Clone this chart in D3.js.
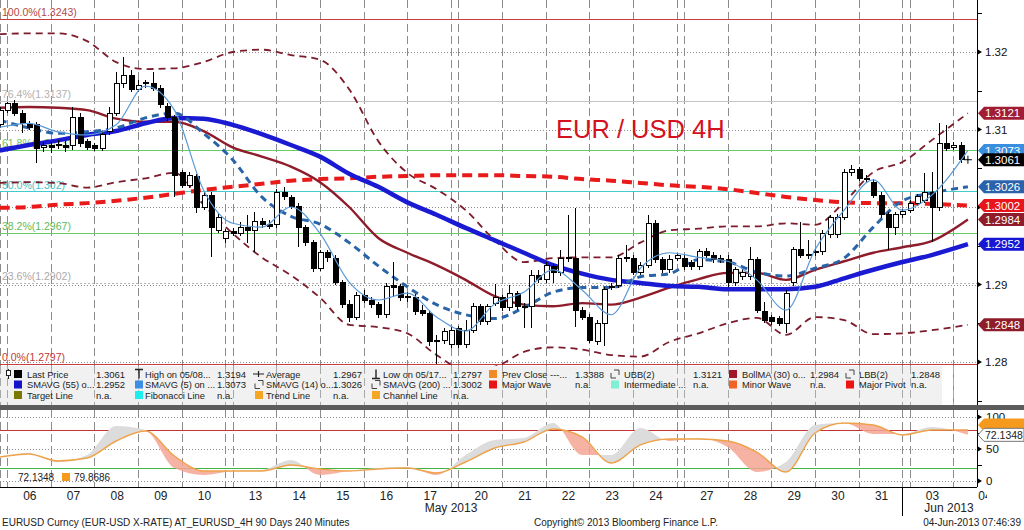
<!DOCTYPE html>
<html><head><meta charset="utf-8">
<script src="https://cdn.jsdelivr.net/npm/d3@7"></script>
<style>
html,body{margin:0;padding:0;background:#fff;}
svg{display:block;font-family:"Liberation Sans",Arial,sans-serif;}
</style></head><body>
<svg id="c" width="1024" height="530"></svg>
<script>
// ---------- categories ----------
const dayLabels = ["06","07","08","09","10","13","14","15","16","17","20","21","22","23","24","27","28","29","30","31","03","04"];
const dayStarts = [1,7,13,19,25,32,38,44,50,56,63,69,75,81,87,94,100,106,112,118,125,131];
const sundayBars = [0,31,62,93,124];
const monthLabels = ["May 2013","Jun 2013"];
const monthPos = [62,130.5];
const monthBreak = 124;

// ---------- 4H candles (EURUSD) ----------
const candleOpen = [
1.3106,1.3125,1.3133,1.3121,1.3107,1.3106,1.3077,1.3079,1.3079,1.3080,
1.3080,1.3116,1.3084,1.3079,1.3076,1.3097,1.3121,1.3160,1.3170,1.3152,
1.3159,1.3160,1.3153,1.3130,1.3115,1.3044,1.3028,1.3039,1.3000,1.3015,
1.2970,1.2960,1.2969,1.2966,1.2974,1.2970,1.2981,1.2978,1.2977,1.3019,
1.3012,1.3001,1.2973,1.2954,1.2921,1.2941,1.2934,1.2902,1.2874,1.2858,
1.2886,1.2880,1.2874,1.2861,1.2899,1.2897,1.2885,1.2883,1.2866,1.2863,
1.2828,1.2828,1.2822,1.2843,1.2822,1.2841,1.2871,1.2852,1.2876,1.2883,
1.2870,1.2888,1.2872,1.2871,1.2912,1.2906,1.2923,1.2915,1.2935,1.2934,
1.2867,1.2858,1.2826,1.2850,1.2896,1.2899,1.2935,1.2934,1.2916,1.2925,
1.2979,1.2932,1.2919,1.2934,1.2934,1.2928,1.2923,1.2942,1.2938,1.2934,
1.2932,1.2902,1.2910,1.2910,1.2932,1.2865,1.2857,1.2856,1.2850,1.2902,
1.2945,1.2939,1.2943,1.2942,1.2964,1.2964,1.2987,1.3044,1.3048,1.3037,
1.3032,1.3015,1.2990,1.2973,1.2990,1.2996,1.3005,1.3009,1.3019,1.2999,
1.3082,1.3077,1.3080];
const candleHigh = [
1.3129,1.3135,1.3138,1.3125,1.3111,1.3110,1.3084,1.3084,1.3086,1.3085,
1.3129,1.3121,1.3088,1.3082,1.3098,1.3129,1.3174,1.3194,1.3177,1.3164,
1.3164,1.3174,1.3157,1.3134,1.3119,1.3048,1.3045,1.3043,1.3019,1.3019,
1.2991,1.2972,1.2973,1.2981,1.2990,1.2994,1.2986,1.2983,1.3023,1.3026,
1.3015,1.3005,1.2977,1.2957,1.2945,1.2945,1.2938,1.2906,1.2880,1.2890,
1.2893,1.2884,1.2877,1.2902,1.2929,1.2901,1.2890,1.2888,1.2874,1.2867,
1.2835,1.2844,1.2845,1.2846,1.2854,1.2876,1.2875,1.2875,1.2901,1.2886,
1.2899,1.2892,1.2876,1.2919,1.2919,1.2929,1.2926,1.2945,1.2990,1.2999,
1.2871,1.2862,1.2854,1.2897,1.2902,1.2938,1.2951,1.2938,1.2929,1.2990,
1.2983,1.2935,1.2938,1.2941,1.2938,1.2932,1.2946,1.2947,1.2942,1.2938,
1.2938,1.2923,1.2920,1.2948,1.2935,1.2877,1.2861,1.2859,1.2893,1.2948,
1.2981,1.2957,1.2947,1.2970,1.2990,1.2991,1.3049,1.3054,1.3052,1.3041,
1.3036,1.3019,1.2994,1.2994,1.2997,1.3009,1.3017,1.3044,1.3045,1.3108,
1.3106,1.3084,1.3084];
const candleLow = [
1.3102,1.3121,1.3117,1.3095,1.3099,1.3057,1.3071,1.3070,1.3075,1.3071,
1.3073,1.3077,1.3073,1.3072,1.3072,1.3093,1.3117,1.3153,1.3148,1.3148,
1.3153,1.3150,1.3128,1.3111,1.3013,1.3025,1.3025,1.2992,1.2996,1.2935,
1.2966,1.2954,1.2963,1.2963,1.2954,1.2942,1.2973,1.2972,1.2973,1.3009,
1.2997,1.2948,1.2950,1.2916,1.2917,1.2929,1.2899,1.2870,1.2852,1.2854,
1.2876,1.2870,1.2857,1.2857,1.2884,1.2879,1.2877,1.2861,1.2859,1.2821,
1.2797,1.2823,1.2818,1.2818,1.2818,1.2837,1.2848,1.2848,1.2872,1.2866,
1.2866,1.2867,1.2844,1.2844,1.2902,1.2902,1.2902,1.2911,1.2929,1.2845,
1.2854,1.2825,1.2822,1.2821,1.2893,1.2896,1.2929,1.2912,1.2912,1.2921,
1.2928,1.2915,1.2915,1.2930,1.2919,1.2919,1.2919,1.2934,1.2928,1.2928,
1.2897,1.2898,1.2906,1.2906,1.2863,1.2850,1.2848,1.2846,1.2837,1.2898,
1.2934,1.2933,1.2937,1.2938,1.2960,1.2960,1.2983,1.3040,1.3034,1.3031,
1.3012,1.2986,1.2945,1.2964,1.2986,1.2992,1.3001,1.3005,1.2955,1.2995,
1.3072,1.3073,1.3057];
const candleClose = [
1.3125,1.3133,1.3121,1.3108,1.3103,1.3076,1.3079,1.3077,1.3081,1.3077,
1.3115,1.3082,1.3077,1.3076,1.3093,1.3121,1.3160,1.3170,1.3152,1.3157,
1.3161,1.3153,1.3132,1.3115,1.3041,1.3028,1.3041,1.3000,1.3015,1.2973,
1.2987,1.2968,1.2966,1.2974,1.2970,1.2981,1.2977,1.2975,1.3019,1.3013,
1.3001,1.2973,1.2954,1.2921,1.2941,1.2935,1.2903,1.2874,1.2858,1.2886,
1.2880,1.2874,1.2861,1.2897,1.2896,1.2883,1.2883,1.2865,1.2863,1.2826,
1.2826,1.2839,1.2841,1.2822,1.2841,1.2871,1.2852,1.2871,1.2883,1.2870,
1.2889,1.2871,1.2870,1.2912,1.2906,1.2925,1.2915,1.2934,1.2933,1.2867,
1.2858,1.2828,1.2850,1.2893,1.2898,1.2934,1.2933,1.2916,1.2925,1.2979,
1.2932,1.2919,1.2932,1.2937,1.2923,1.2923,1.2942,1.2938,1.2932,1.2932,
1.2902,1.2919,1.2916,1.2932,1.2867,1.2854,1.2852,1.2850,1.2889,1.2945,
1.2938,1.2937,1.2941,1.2966,1.2986,1.2987,1.3045,1.3048,1.3037,1.3035,
1.3015,1.2990,1.2973,1.2990,1.2994,1.3005,1.3013,1.3019,1.2999,1.3082,
1.3076,1.3080,1.3061];
const lastPrice = 1.3061;
const lastBar = 133;

// ---------- studies (sampled at bar indices) ----------
const lineIdx = [0,4,8,12,16,20,24,28,32,36,40,44,48,52,56,60,64,68,72,76,80,84,88,92,96,100,104,108,112,116,120,124,128,133];
const sma55 = [1.3073,1.3080,1.3086,1.3093,1.3098,1.3108,1.3115,1.3114,1.3106,1.3094,1.3080,1.3065,1.3043,1.3026,1.3006,1.2990,1.2973,1.2957,1.2941,1.2925,1.2914,1.2906,1.2902,1.2898,1.2897,1.2894,1.2894,1.2894,1.2897,1.2908,1.2919,1.2929,1.2938,1.2952];
const bollMA30 = [1.3128,1.3129,1.3128,1.3125,1.3114,1.3110,1.3110,1.3098,1.3077,1.3065,1.3052,1.3032,1.3000,1.2960,1.2941,1.2925,1.2906,1.2885,1.2874,1.2872,1.2876,1.2874,1.2883,1.2896,1.2907,1.2915,1.2915,1.2906,1.2919,1.2930,1.2941,1.2948,1.2956,1.2984];
const sma14 = [1.3112,1.3102,1.3095,1.3097,1.3102,1.3115,1.3121,1.3095,1.3061,1.3013,1.2988,1.2978,1.2954,1.2924,1.2897,1.2874,1.2861,1.2856,1.2870,1.2890,1.2896,1.2896,1.2910,1.2914,1.2932,1.2929,1.2916,1.2911,1.2921,1.2934,1.2974,1.3008,1.3018,1.3026];
const sma5 = [1.3103,1.3108,1.3097,1.3093,1.3106,1.3156,1.3125,1.3022,1.2979,1.2974,1.3000,1.2966,1.2903,1.2880,1.2889,1.2858,1.2840,1.2875,1.2890,1.2919,1.2893,1.2861,1.2921,1.2941,1.2935,1.2930,1.2906,1.2867,1.2945,1.2996,1.3035,1.2996,1.3015,1.3073];
const sma200 = [1.2999,1.3000,1.3003,1.3005,1.3008,1.3012,1.3017,1.3022,1.3026,1.3030,1.3034,1.3036,1.3037,1.3039,1.3040,1.3041,1.3041,1.3041,1.3040,1.3039,1.3036,1.3034,1.3031,1.3028,1.3026,1.3023,1.3018,1.3013,1.3009,1.3006,1.3005,1.3005,1.3004,1.3002];
const ubb = [1.3223,1.3224,1.3224,1.3214,1.3187,1.3178,1.3179,1.3187,1.3200,1.3203,1.3196,1.3190,1.3152,1.3085,1.3044,1.3023,1.2996,1.2957,1.2929,1.2934,1.2935,1.2935,1.2954,1.2970,1.2972,1.2975,1.2975,1.2979,1.2977,1.3006,1.3045,1.3058,1.3086,1.3121];
const lbb = [1.3031,1.3032,1.3031,1.3025,1.3032,1.3037,1.3044,1.3003,1.2966,1.2935,1.2912,1.2883,1.2848,1.2845,1.2837,1.2809,1.2790,1.2794,1.2813,1.2819,1.2816,1.2809,1.2807,1.2826,1.2837,1.2850,1.2857,1.2835,1.2858,1.2854,1.2836,1.2837,1.2841,1.2848];
const stochK = [37.5,43.8,29.7,40.6,85.9,79.7,20.3,9.4,15.6,17.2,32.8,9.4,15.6,20.3,21.9,9.4,40.6,64.1,67.2,90.6,40.6,40.6,82.8,62.5,67.2,53.1,14.1,29.7,87.5,90.6,73.4,73.4,84.4,72.1348];
const stochD = [37.5,42.2,31.3,35.9,62.5,78.1,39.1,15.6,15.6,15.6,25.0,18.8,15.6,18.8,20.3,12.5,29.7,51.6,60.9,81.3,68.8,28.1,56.3,65.6,65.6,62.5,45.3,14.1,75.0,90.6,87.5,71.9,79.7,79.8686];

// ---------- fibonacci ----------
const fibLevels = [1.3243,1.3137,1.3073,1.3020,1.2967,1.2902,1.2797];
const fibLabels = ["100.0%(1.3243)","76.4%(1.3137)","61.8%(1.3073)","50.0%(1.302)","38.2%(1.2967)","23.6%(1.2902)","0.0%(1.2797)"];
const fibColors = ["#c43c3c","#c4c4c4","#66cc66","#44cccc","#66cc66","#b4b4b4","#c43c3c"];
const fibTextColors = ["#b24848","#b0b0b0","#6cc46c","#44c4c4","#5cbc5c","#aaaaaa","#c03838"];

// ---------- axis ticks ----------
const priceTicks = [1.32,1.31,1.30,1.29,1.28];
const priceTickLabels = ["1.32","1.31","","1.29","1.28"];   // 1.30 label sits under the value flags
const priceMinor = [1.325,1.315,1.305,1.295,1.285,1.275];
const oscTicks = [100,50,0];
const oscMinor = [75,25];

// ---------- right-hand value flags ----------
const flagValues = [1.3121,1.3073,1.3061,1.3026,1.3002,1.2984,1.2952,1.2848];
const flagColors = ["#a11d33","#3a8ee0","#000000","#2a62ac","#e8161c","#8e1c2a","#1616d4","#8e1c2a"];

// ---------- legend ----------
const legendIcons = [["lp","#000","sq","#1414c8","sq","#7a7a00"],["hi","#222","sq","#3d8fe6","sq","#20eeee"],["avg","#222","br","#444","sq","#f5a623"],["lo","#222","br","#444","sq","#f5a623"],["sq","#f08a24","sq","#e81414"],["br","#444","sq","#7ff0d4"],["sq","#a01828","sq","#f06428"],["br","#444","sq","#ee1414"]];
const legendNames = [["Last Price","SMAVG (55) o...","Target Line"],["High on 05/08...","SMAVG (5) on ...","Fibonacci Line"],["Average","SMAVG (14) o...","Trend Line"],["Low on 05/17...","SMAVG (200) ...","Channel Line"],["Prev Close ---...","Major Wave"],["UBB(2)","Intermediate ..."],["BollMA (30) o...","Minor Wave"],["LBB(2)","Major Pivot"]];
const legendValues = [["1.3061","1.2952","n.a."],["1.3194","1.3073","n.a."],["1.2967","1.3026","n.a."],["1.2797","1.3002","n.a."],["1.3388","n.a."],["1.3121","n.a."],["1.2984","n.a."],["1.2848","n.a."]];
const legendIconX = [14,135,255,372,489,611,729,846];
const legendNameX = [27,145,266,383,502,624,742,859];
const legendValueX = [96,217,333,453,575,693,810,911];
const oscLegendValues = ["72.1348","79.8686"];

// ================= drawing =================
const svg = d3.select("#c");
const XR = 977, MB = 405, LT = 410, LB = 487;
const x = d3.scaleLinear().domain([0,134]).range([-0.3,975.2]);
const y = d3.scaleLinear().domain([1.32,1.28]).range([52,362]);
const yo = d3.scaleLinear().domain([0,100]).range([481,417]);
const defs = svg.append("defs");
defs.append("clipPath").attr("id","cm").append("rect").attr("x",0).attr("y",0).attr("width",XR).attr("height",MB);
defs.append("clipPath").attr("id","cl").append("rect").attr("x",0).attr("y",LT).attr("width",XR).attr("height",LB-LT);
defs.append("clipPath").attr("id","cx").append("rect").attr("x",0).attr("y",LB).attr("width",987).attr("height",30);

const gridK = dayStarts.concat(sundayBars);
const px = k => Math.round(x(k)) + 0.5;

// ---- main panel ----
const g = svg.append("g").attr("clip-path","url(#cm)");
g.selectAll("line.vg").data(gridK).join("line").attr("class","vg")
  .attr("x1",px).attr("x2",px).attr("y1",0).attr("y2",MB)
  .attr("stroke","#8c8c8c").attr("stroke-dasharray","8,4");
g.selectAll("line.hg").data(priceTicks).join("line").attr("class","hg")
  .attr("x1",0).attr("x2",XR).attr("y1",d=>Math.round(y(d))+0.5).attr("y2",d=>Math.round(y(d))+0.5)
  .attr("stroke","#8c8c8c").attr("stroke-dasharray","1,2");
g.selectAll("text.fl").data(fibLevels).join("text").attr("class","fl")
  .attr("x",2).attr("y",d=>y(d)-3).attr("font-size",10.5)
  .attr("fill",(d,i)=>fibTextColors[i]).text((d,i)=>fibLabels[i]);
g.selectAll("line.fib").data(fibLevels).join("line").attr("class","fib")
  .attr("x1",0).attr("x2",XR).attr("y1",d=>Math.round(y(d))+0.5).attr("y2",d=>Math.round(y(d))+0.5)
  .attr("stroke",(d,i)=>fibColors[i]).attr("stroke-width",1.2)
  .attr("stroke-dasharray",(d,i)=>i===5?"2,2":null);
g.append("text").attr("x",556).attr("y",138).attr("font-size",25.5).attr("fill","#d4111e").text("EUR / USD 4H");

const lineGen = d3.line().x((d,i)=>x(lineIdx[i])).y(d=>y(d)).curve(d3.curveMonotoneX);
function drawLine(vals,color,w,dash){
  g.append("path").attr("d",lineGen(vals)).attr("fill","none").attr("stroke",color)
   .attr("stroke-width",w).attr("stroke-dasharray",dash||null).attr("stroke-linejoin","round");
}
drawLine(ubb,"#7c1c2c",1.8,"7,5");
drawLine(lbb,"#7c1c2c",1.8,"7,5");
drawLine(sma200,"#e81a1a",4,"10,6");
drawLine(bollMA30,"#8e1c2a",2.4);
drawLine(sma55,"#1a1ad2",4.5);
drawLine(sma14,"#2a64a8",3,"7,5");

const candles = candleOpen.map((o,i)=>({k:i,o:o,h:candleHigh[i],l:candleLow[i],c:candleClose[i]}));
const cg = g.append("g").attr("shape-rendering","crispEdges");
cg.selectAll("line").data(candles).join("line")
  .attr("x1",d=>px(d.k)).attr("x2",d=>px(d.k)).attr("y1",d=>y(d.h)).attr("y2",d=>y(d.l))
  .attr("stroke","#000");
cg.selectAll("rect").data(candles).join("rect")
  .attr("x",d=>Math.round(x(d.k))-2).attr("width",5)
  .attr("y",d=>Math.min(y(d.o),y(d.c)))
  .attr("height",d=>Math.max(1.5,Math.abs(y(d.o)-y(d.c))))
  .attr("fill",d=>d.c>=d.o?"#fff":"#000").attr("stroke","#000");
drawLine(sma5,"#5a9ad8",1.2);
g.append("path").attr("d",`M${x(lastBar)-4},${y(lastPrice)}h8M${x(lastBar)},${y(lastPrice)-4}v8`)
  .attr("stroke","#000").attr("stroke-width",1);

// ---- legend box ----
svg.append("rect").attr("x",0).attr("y",366).attr("width",942).attr("height",MB-366).attr("fill","#f1f1f1");
svg.selectAll("line.lg").data(gridK).join("line").attr("class","lg")
  .attr("x1",px).attr("x2",px).attr("y1",366).attr("y2",MB)
  .attr("stroke","#a8a8a8").attr("stroke-dasharray","8,4");
const rowY = [374,384.5,395];
legendNames.forEach((col,ci)=>{
  col.forEach((name,ri)=>{
    const ix = legendIconX[ci], yc = rowY[ri];
    const kind = legendIcons[ci][ri*2], col2 = legendIcons[ci][ri*2+1];
    if(kind==="sq"||kind==="lp"){
      svg.append("rect").attr("x",ix).attr("y",yc-4).attr("width",8).attr("height",8).attr("fill",col2);
      if(kind==="lp"){
        svg.append("line").attr("x1",8.5).attr("x2",8.5).attr("y1",yc-5).attr("y2",yc+5).attr("stroke","#222");
        svg.append("rect").attr("x",6.5).attr("y",yc-3.5).attr("width",4).attr("height",5).attr("fill","#fff").attr("stroke","#222");
      }
    } else if(kind==="hi"){
      svg.append("path").attr("d",`M${ix},${yc-4.5}h8M${ix+4},${yc-4.5}v9`).attr("stroke",col2).attr("stroke-width",1.4).attr("fill","none");
    } else if(kind==="lo"){
      svg.append("path").attr("d",`M${ix},${yc+4.5}h8M${ix+4},${yc+4.5}v-9`).attr("stroke",col2).attr("stroke-width",1.4).attr("fill","none");
    } else if(kind==="avg"){
      svg.append("path").attr("d",`M${ix-2},${yc}h11M${ix+3.5},${yc-3}v6`).attr("stroke",col2).attr("stroke-width",1.2).attr("fill","none");
    } else if(kind==="br"){
      svg.append("path").attr("d",`M${ix+3},${yc-4}h5v5M${ix},${yc-1}v5h5`).attr("stroke",col2).attr("stroke-width",1).attr("fill","none");
    }
    svg.append("text").attr("x",legendNameX[ci]).attr("y",yc+3.5).attr("font-size",9.3).attr("fill","#222").text(name);
    svg.append("text").attr("x",legendValueX[ci]).attr("y",yc+3.5).attr("font-size",9.5).attr("fill","#222").text(legendValues[ci][ri]);
  });
});
svg.append("rect").attr("x",0).attr("y",MB).attr("width",1024).attr("height",LT-MB).attr("fill","#5c5c5c");

// ---- lower panel (stochastic) ----
const lg = svg.append("g").attr("clip-path","url(#cl)");
lg.selectAll("line.vg").data(gridK).join("line").attr("class","vg")
  .attr("x1",px).attr("x2",px).attr("y1",LT).attr("y2",LB)
  .attr("stroke","#8c8c8c").attr("stroke-dasharray","8,4");
lg.selectAll("line.hg").data(oscTicks).join("line").attr("class","hg")
  .attr("x1",0).attr("x2",XR).attr("y1",d=>Math.round(yo(d))+0.5).attr("y2",d=>Math.round(yo(d))+0.5)
  .attr("stroke","#8c8c8c").attr("stroke-dasharray","1,2");
lg.append("line").attr("x1",0).attr("x2",XR).attr("y1",Math.round(yo(80))+0.5).attr("y2",Math.round(yo(80))+0.5).attr("stroke","#c43434");
lg.append("line").attr("x1",0).attr("x2",XR).attr("y1",Math.round(yo(20))+0.5).attr("y2",Math.round(yo(20))+0.5).attr("stroke","#44b444");
const oscX = (d,i)=>x(lineIdx[i]);
const aboveD = d3.area().x(oscX).y0(LT).y1(d=>yo(d)).curve(d3.curveMonotoneX);
const belowD = d3.area().x(oscX).y0(LB).y1(d=>yo(d)).curve(d3.curveMonotoneX);
defs.append("clipPath").attr("id","ca").append("path").attr("d",aboveD(stochD));
defs.append("clipPath").attr("id","cb").append("path").attr("d",belowD(stochD));
const between = d3.area().x(oscX).y0((d,i)=>yo(stochD[i])).y1(d=>yo(d)).curve(d3.curveMonotoneX);
lg.append("path").attr("d",between(stochK)).attr("fill","#dcdcdc").attr("clip-path","url(#ca)");
lg.append("path").attr("d",between(stochK)).attr("fill","#f5a592").attr("fill-opacity",0.85).attr("clip-path","url(#cb)");
lg.append("path").attr("d",d3.line().x(oscX).y(d=>yo(d)).curve(d3.curveMonotoneX)(stochD))
  .attr("fill","none").attr("stroke","#eea24a").attr("stroke-width",1.4);
svg.append("text").attr("x",18).attr("y",481).attr("font-size",10).attr("fill","#222").text(oscLegendValues[0]);
svg.append("rect").attr("x",62).attr("y",473).attr("width",8).attr("height",8).attr("fill","#f59a1c");
svg.append("text").attr("x",74).attr("y",481).attr("font-size",10).attr("fill","#222").text(oscLegendValues[1]);

// ---- axes ----
svg.append("line").attr("x1",XR+0.5).attr("x2",XR+0.5).attr("y1",0).attr("y2",MB).attr("stroke","#000");
svg.append("line").attr("x1",XR+0.5).attr("x2",XR+0.5).attr("y1",LT).attr("y2",LB).attr("stroke","#000");
svg.append("line").attr("x1",0).attr("x2",XR).attr("y1",LB+0.5).attr("y2",LB+0.5).attr("stroke","#000");
priceTicks.forEach((t,i)=>{
  const yy = y(t);
  svg.append("path").attr("d",`M${XR},${yy-3}L${XR+5},${yy}L${XR},${yy+3}Z`).attr("fill","#000");
  if(priceTickLabels[i]) svg.append("text").attr("x",985).attr("y",yy+4).attr("font-size",11.5).attr("fill","#111").text(priceTickLabels[i]);
});
priceMinor.forEach(t=>{
  svg.append("line").attr("x1",XR).attr("x2",XR+5).attr("y1",Math.round(y(t))+0.5).attr("y2",Math.round(y(t))+0.5).attr("stroke","#000");
});
oscTicks.forEach(t=>{
  const yy = yo(t);
  svg.append("path").attr("d",`M${XR},${yy-3}L${XR+5},${yy}L${XR},${yy+3}Z`).attr("fill","#000");
  svg.append("text").attr("x",986).attr("y",yy+4).attr("font-size",11.5).attr("fill","#111").text(t);
});
oscMinor.forEach(t=>{
  svg.append("line").attr("x1",XR).attr("x2",XR+5).attr("y1",Math.round(yo(t))+0.5).attr("y2",Math.round(yo(t))+0.5).attr("stroke","#000");
});

function flagShape(yc, fill, stroke){
  svg.append("path").attr("d",`M978,${yc}L984,${yc-6.5}L1024,${yc-6.5}L1024,${yc+6.5}L984,${yc+6.5}Z`)
    .attr("fill",fill).attr("stroke",stroke||"none");
}
function flag(yc, fill, txt, tcol, stroke, fs){
  flagShape(yc, fill, stroke);
  svg.append("text").attr("x",985).attr("y",yc+4.2).attr("font-size",fs||11.5).attr("fill",tcol).text(txt);
}
flagValues.forEach((v,i)=>flag(y(v),flagColors[i],d3.format(".4f")(v),"#fff"));
flagShape(yo(+oscLegendValues[1])-5,"#f59a1c");
flag(yo(+oscLegendValues[0]),"#ffffff",oscLegendValues[0],"#222","#777",10.5);

// x axis labels
const xa = svg.append("g").attr("clip-path","url(#cx)");
xa.selectAll("text").data(dayLabels).join("text")
  .attr("x",(d,i)=> i===dayLabels.length-1 ? 985 : x(dayStarts[i]+3)+1)
  .attr("y",500).attr("text-anchor","middle").attr("font-size",12).attr("fill","#222").text(d=>d);
svg.selectAll("text.mon").data(monthLabels).join("text").attr("class","mon")
  .attr("x",(d,i)=>i===0?x(monthPos[i]):949).attr("y",512).attr("text-anchor","middle")
  .attr("font-size",12).attr("fill","#222").text(d=>d);
svg.append("line").attr("x1",px(monthBreak)).attr("x2",px(monthBreak)).attr("y1",LB).attr("y2",516).attr("stroke","#000");

// footer
svg.append("text").attr("x",2).attr("y",526).attr("font-size",10).attr("fill","#222").text("EURUSD Curncy (EUR-USD X-RATE) AT_EURUSD_4H 90 Days 240 Minutes");
svg.append("text").attr("x",534).attr("y",526).attr("font-size",10).attr("fill","#222").text("Copyright\u00A9 2013 Bloomberg Finance L.P.");
svg.append("text").attr("x",1021).attr("y",526).attr("text-anchor","end").attr("font-size",10).attr("fill","#222").text("04-Jun-2013 07:46:39");
</script>
</body></html>
